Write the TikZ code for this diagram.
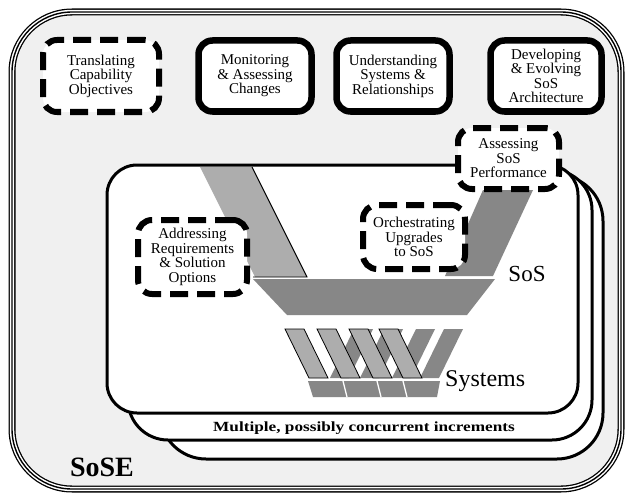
\documentclass[tikz,border=0pt]{standalone}
\usepackage{fontspec}
\setmainfont{Liberation Serif}
\definecolor{outerg}{HTML}{F0F0F0}
\definecolor{lightg}{HTML}{ADADAD}
\definecolor{darkg}{HTML}{878787}
\tikzset{
  solidbox/.style={draw, line width=6.5pt, rounded corners=14pt, fill=white, align=center,
    font=\fontsize{15}{14.5}\selectfont, inner sep=0pt},
  dashbox/.style={solidbox, line width=6pt, dash pattern=on 18pt off 9pt},
  incbox/.style={draw, line width=3pt, fill=white},
  lightbar/.style={fill=lightg, draw=black, line width=0.8pt},
  darkbar/.style={fill=darkg},
  sep/.style={draw=white, line width=1.3pt},
}
\begin{document}
\begin{tikzpicture}[x=1pt,y=-1pt]
\useasboundingbox (0,0) rectangle (627,495);
% outer SoSE frame (triple line)
\fill[outerg, rounded corners=60pt] (12,12) rectangle (621,489);
\draw[line width=7pt, rounded corners=60pt] (12,12) rectangle (621,489);
\draw[white, line width=4.4pt, rounded corners=60pt] (12,12) rectangle (621,489);
\draw[line width=1.4pt, rounded corners=60pt] (12,12) rectangle (621,489);
% increments
\draw[incbox, rounded corners=46pt] (160,175) rectangle (603,459);
\draw[incbox, rounded corners=40pt] (128,170) rectangle (592,440);
\draw[incbox, rounded corners=30pt] (107,165) rectangle (578,413);
% SoS V band
\fill[lightg] (200,167) -- (252,167) -- (307,277) -- (255,277) -- cycle;
\draw[line width=0.9pt] (252,167) -- (307,277) -- (253,277);
\fill[darkg] (253,279) -- (495,279) -- (467,315) -- (287,315) -- cycle;
\fill[darkg] (445,276) -- (493,276) -- (533,190) -- (483,190) -- cycle;
% Systems bars
\foreach \b in {330,360,392,420}
  \fill[darkbar] (\b,378) -- (\b+19,378) -- (\b+43,329) -- (\b+24,329) -- cycle;
\foreach \t in {285,317,349,379}
  \draw[lightbar] (\t,329) -- (\t+19,329) -- (\t+43,378) -- (\t+24,378) -- cycle;
\fill[darkg] (308,381) -- (440,381) -- (437,397) -- (313,397) -- cycle;
\foreach \s in {343,377,403}
  \draw[sep] (\s,381) -- (\s+4,397);
% boxes
\node[dashbox, minimum width=116pt, minimum height=72pt] (tco) at (101,76) {Translating\\Capability\\Objectives};
\node[solidbox, minimum width=113pt, minimum height=71pt] (mac) at (255,76) {Monitoring\\\&~Assessing\\Changes};
\node[solidbox, minimum width=113pt, minimum height=71pt] (usr) at (393,76) {Understanding\\Systems~\&\\Relationships};
\node[solidbox, minimum width=111pt, minimum height=71pt] (dea) at (546,76) {Developing\\\&~Evolving\\SoS\\Architecture};
\node[dashbox, minimum width=101pt, minimum height=61pt] (asp) at (508.5,158.5) {Assessing\\SoS\\Performance};
\node[dashbox, minimum width=102pt, minimum height=64pt] (ous) at (414,237) {Orchestrating\\Upgrades\\to SoS};
\node[dashbox, minimum width=109pt, minimum height=74pt] (ars) at (192.5,257) {Addressing\\Requirements\\\&~Solution\\Options};
% labels
\node[font=\fontsize{23}{23}\selectfont, inner sep=0pt] (sos) at (527,274) {SoS};
\node[font=\fontsize{24}{24}\selectfont, inner sep=0pt, anchor=base west] (sys) at (445,386) {Systems};
\node[font=\bfseries\fontsize{14}{14}\selectfont, inner sep=0pt] (mult) at (364,428) {\scalebox{1.23}[1]{Multiple, possibly concurrent increments}};
\node[font=\bfseries\fontsize{28}{28}\selectfont, inner sep=0pt] (sose) at (102,467) {SoSE};
\end{tikzpicture}
\end{document}
